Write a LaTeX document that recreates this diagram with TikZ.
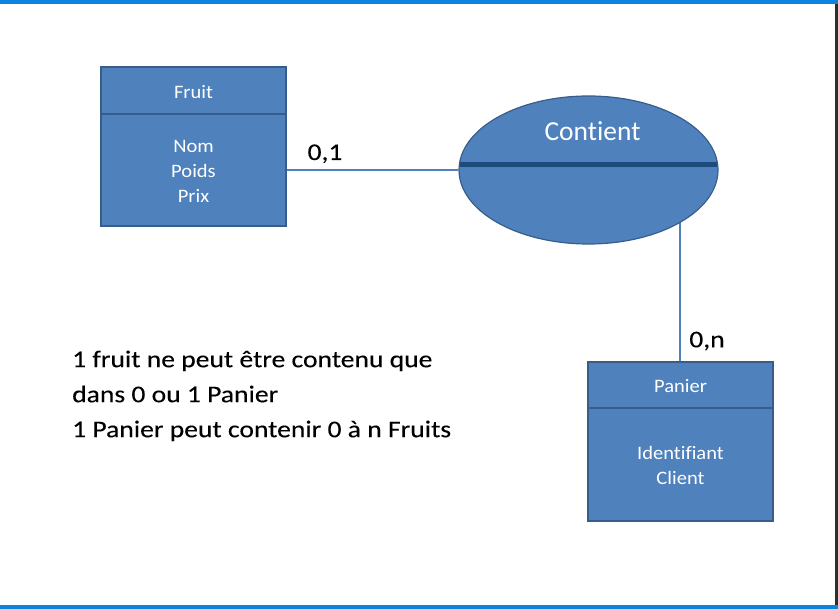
\documentclass[tikz,border=0pt]{standalone}
\usepackage{fontspec}
\setmainfont{Carlito}[Ligatures=CommonOff]
\newfontfamily\boxfont{Carlito}[FakeStretch=1.08, Ligatures=CommonOff]
\newfontfamily\notefont{Carlito}[FakeStretch=1.15, FakeBold=0.15, Ligatures=CommonOff]
\usetikzlibrary{shapes.geometric,backgrounds}
\definecolor{boxfill}{HTML}{4F81BD}
\definecolor{boxline}{HTML}{385D8A}
\definecolor{band}{HTML}{1F4A7E}
\definecolor{topbar}{HTML}{0A84DC}
\definecolor{sidebar}{HTML}{2E2E2E}
\tikzset{
  entity/.style={draw=boxline, line width=1.6pt, fill=boxfill, rectangle, minimum width=185pt, minimum height=159pt, inner sep=0pt},
  relation/.style={draw=boxline, line width=1.2pt, fill=boxfill, ellipse, minimum width=259pt, minimum height=148pt, inner sep=0pt},
  divider/.style={draw=boxline, line width=1.6pt},
  bandline/.style={draw=band, line width=5pt},
  wtext/.style={text=white, font=\boxfont\fontsize{19}{24.6}\selectfont, align=center, inner sep=0pt},
  ctext/.style={text=white, font=\fontsize{27.5}{32}\selectfont, inner sep=0pt},
  card/.style={text=black, font=\notefont\fontsize{24}{29}\selectfont, inner sep=0pt},
  note/.style={text=black, font=\notefont\fontsize{24}{35}\selectfont, align=left, inner sep=0pt, anchor=north west},
  link/.style={draw=boxfill, line width=2.6pt}
}
\newcommand{\topstrut}{\rule{0pt}{20pt}}
\begin{document}
\begin{tikzpicture}[x=1pt,y=-1pt]
\useasboundingbox (0,0) rectangle (838,609);
% frame
\fill[topbar] (0,0) rectangle (838,4.5);
\fill[topbar] (0,604.5) rectangle (838,609);
\fill[sidebar] (834.5,4.5) rectangle (837.5,604.5);
% entities
\node[entity] (fruit) at (193.5,146.5) {};
\draw[divider] (101,114) coordinate (fdl) -- (286,114) coordinate (fdr);
\node[wtext, anchor=base] (fruitt) at (193.5,98.3) {Fruit};
\node[wtext, anchor=north] (fruita) at (193.5,132.7) {\topstrut Nom\\Poids\\Prix};
\node[entity] (panier) at (680.5,441.5) {};
\draw[divider] (588,408) coordinate (pdl) -- (773,408) coordinate (pdr);
\node[wtext, anchor=base] (paniert) at (680.5,392.7) {Panier};
\node[wtext, anchor=north] (paniera) at (680.5,439.3) {\topstrut Identifiant\\Client};
% relation
\node[relation] (rel) at (588.5,170) {};
\draw[bandline] (459.8,165) coordinate (bl) -- (717.2,165) coordinate (br);
\node[ctext, anchor=base] (relt) at (592.5,140.3) {Contient};
% connectors
\coordinate (fx) at (fruit.east |- 0,170);
\coordinate (rx) at (rel.west |- 0,170);
\coordinate (px) at (680,362);
\begin{scope}[on background layer]
\draw[link] (fx) -- (rx);
\draw[link] (px) -- (680,215) coordinate (pe);
\end{scope}
% labels
\node[card, anchor=base] (c1) at (325,160) {0,1};
\node[card, anchor=base] (c2) at (707,347.3) {0,n};
\node[note] (txt) at (72,347) {\topstrut 1 fruit ne peut être contenu que\\dans 0 ou 1 Panier\\1 Panier peut contenir 0 à n Fruits};
\end{tikzpicture}
\end{document}
